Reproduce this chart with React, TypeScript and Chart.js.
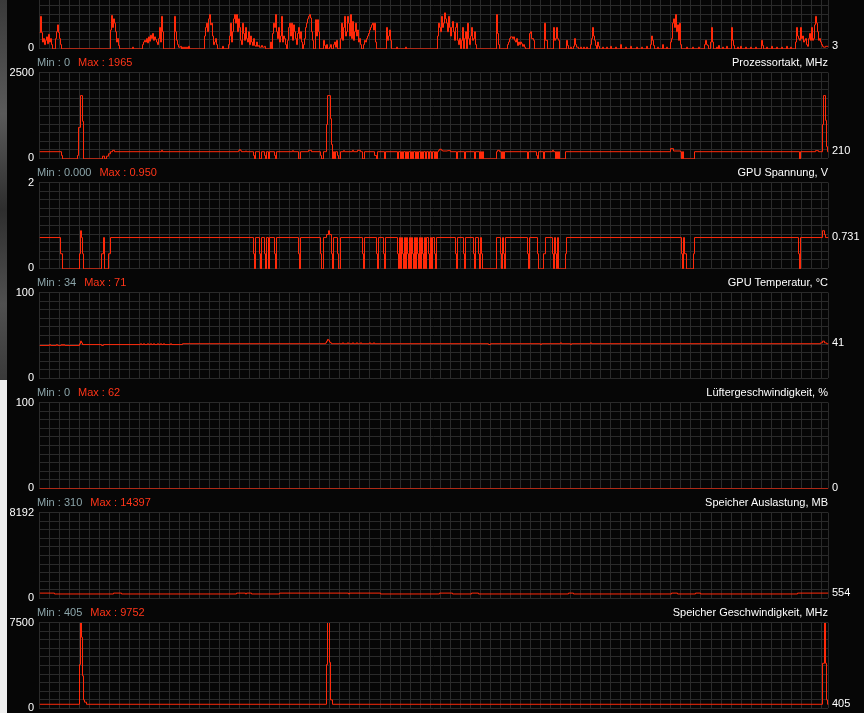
import React, { useEffect, useRef } from 'react';
import { Chart, registerables } from 'chart.js';

Chart.register(...registerables);

const LINE = '#ff2a0a';
const GRID = '#2a2a2a';
const BG = '#060606';
const MIN_C = '#8ca5aa';
const MAX_C = '#ff3519';
const FONT_FAMILY = "'Liberation Sans', Arial, Helvetica, sans-serif";

const SPAN = 789; // seconds of history shown
const GRID_STEP = 10.03;

// [time (s), value] change points of each monitored series
const usage: [number, number][] = [
  [0,19],[1,38],[2,19],[3,8],[4,12],[5,5],[6,10],[7,14],[8,6],[9,17],[10,8],[11,12],[12,5],[13,0],[16,12],[17,20],[18,28],[19,19],[20,12],[21,5],[22,0],
  [71,22],[72,39],[73,25],[74,35],[75,30],[76,20],[77,8],[78,12],[79,4],[80,0],
  [93,2],[94,0],
  [103,5],[104,8],[105,10],[106,8],[107,12],[108,7],[109,14],[110,9],[111,16],[112,12],[113,18],[114,10],[115,14],[116,11],[117,8],[118,5],[119,12],[120,25],[121,8],[122,38],[123,20],[124,0],
  [135,38],[136,20],[137,10],[138,5],[139,2],[141,3],[142,0],[143,2],[144,0],[145,2],[146,0],[147,2],[148,0],[149,3],[150,0],
  [165,15],[166,25],[167,30],[168,20],[169,35],[170,40],[171,28],[172,30],[173,15],[174,5],[175,8],[176,12],[177,5],[178,0],
  [183,3],[184,0],[189,5],
  [190,15],[191,30],[192,8],[193,20],[194,35],[195,40],[196,30],[197,40],[198,20],[199,35],[200,25],[201,10],[202,5],[203,30],[204,18],[205,10],[206,25],[207,12],[208,8],[209,20],[210,5],[211,15],[212,8],[213,4],[214,12],[215,4],[216,3],[217,8],[218,3],[219,4],[220,2],[222,4],[223,2],[225,3],[226,0],
  [231,8],[232,0],[233,18],[234,30],[235,25],[236,40],[237,20],[238,12],[239,25],[240,8],
  [241,15],[242,38],[243,8],[244,15],[245,12],[246,5],[247,0],[248,10],[249,25],[250,30],[251,15],[252,30],[253,10],[254,28],[255,20],[256,12],[257,5],[258,18],[259,25],[260,12],[261,20],[262,8],[263,0],[264,5],[265,12],
  [266,25],[267,30],[268,35],[269,38],[270,40],[271,36],[272,20],[273,10],[274,0],[276,34],[277,15],[278,34],[279,20],[280,0],
  [284,10],[285,4],[286,0],[287,5],[288,0],[290,2],[291,5],[292,0],[294,5],[295,8],[296,2],[297,10],[298,0],
  [301,12],[302,30],[303,10],[304,25],[305,38],[306,15],[307,20],[308,38],[309,30],[310,15],[311,40],[312,12],[313,32],[314,10],[315,20],[316,30],[317,15],[318,22],[319,8],[320,12],[321,5],[322,0],
  [324,5],[325,10],[326,8],[327,12],[328,15],[329,18],[330,22],[331,25],[332,28],[333,30],[334,22],[335,30],[336,8],[337,0],
  [347,25],[348,10],[349,15],[350,22],[351,10],[352,0],[357,2],[358,0],[366,2],[367,0],
  [398,15],[399,30],[400,25],[401,20],[402,38],[403,25],[404,30],[405,42],[406,35],[407,30],[408,20],[409,38],[410,25],[411,15],[412,25],[413,32],[414,20],[415,10],[416,25],[417,30],[418,10],[419,5],[420,12],[421,0],[422,10],[423,25],[424,0],[425,12],[426,20],[427,0],[428,30],[429,12],[430,5],[431,15],[432,25],[433,10],[434,12],[435,20],[436,5],[437,0],
  [457,40],[458,18],[459,5],[460,0],
  [468,5],[469,8],[470,12],[471,14],[473,12],[474,14],[475,10],[476,8],[477,12],[478,4],[479,8],[480,5],[481,8],[482,6],[483,3],[484,5],[485,2],[486,0],
  [490,18],[491,20],[492,12],[494,10],[495,0],
  [505,30],[506,10],[508,0],
  [514,25],[515,10],[516,12],[517,25],[518,12],[519,10],[520,0],
  [527,10],[528,4],[529,0],
  [531,2],[532,0],[534,3],[535,12],[536,5],[537,2],[539,0],[541,2],[542,0],[544,2],[545,0],[547,2],[548,0],
  [551,5],[552,12],[553,25],[554,15],[555,10],[556,4],[557,0],[558,8],[559,3],[560,0],
  [563,2],[564,0],[567,2],[568,0],[571,3],[572,0],[576,2],[577,0],[581,5],[582,0],[586,2],[587,0],[591,3],[592,0],[597,2],[598,0],[602,2],[603,0],[607,3],[608,0],
  [611,5],[612,15],[613,10],[614,4],[615,0],[618,2],[619,0],[623,5],[624,0],[627,2],[628,0],
  [631,8],[632,12],[633,30],[634,35],[635,25],[636,40],[637,20],[638,28],[639,10],[640,30],[641,5],[642,0],
  [647,2],[648,0],[653,2],[654,0],[659,2],[660,0],
  [665,5],[666,10],[667,5],[668,4],[669,0],[671,8],[672,25],[673,8],[674,0],
  [677,2],[678,0],[679,4],[680,0],[683,2],[684,0],[687,3],[688,0],
  [692,25],[693,10],[694,4],[695,0],[698,2],[699,0],[701,3],[702,0],[706,2],[707,0],[711,2],[712,0],[716,2],[717,0],
  [722,10],[723,4],[724,0],[727,2],[728,0],[732,3],[733,0],[737,2],[738,0],[742,2],[743,0],[747,3],[748,0],[751,2],[752,0],
  [756,8],[757,25],[758,15],[759,12],[760,10],[761,25],[762,12],[763,15],[764,8],[765,10],[766,12],[767,5],[768,3],[769,12],[770,18],[771,10],[772,25],[773,10],[774,12],[775,28],[776,38],[777,30],[778,20],[779,10],[780,12],[781,8],[782,5],[783,3],[784,2],[786,3],[789,3],
];

const clock: [number, number][] = [
  [0,210],[22,100],[23,0],[38,100],[39,918],[41,1845],[43,1095],[44,0],
  [63,80],[65,0],[67,80],[69,150],[71,210],[73,250],[75,210],
  [122,250],[123,210],
  [199,240],[200,270],[201,240],[202,210],[206,230],[207,210],
  [214,100],[215,0],[216,210],[220,0],[222,210],[225,100],[226,0],[227,210],[229,0],[230,210],[235,100],[236,0],[237,210],
  [253,240],[254,210],[259,0],[261,210],[269,250],[272,210],
  [281,100],[282,0],[284,210],
  [287,1000],[288,1845],[291,1170],[292,420],[293,0],[294,210],[295,0],[296,210],
  [298,100],[299,0],[301,210],
  [304,240],[305,210],[313,250],[314,210],[318,250],[321,210],
  [323,0],[325,210],[335,100],[337,0],[338,210],[345,0],[346,210],
  [358,0],[359,210],[361,0],[362,210],[363,0],[364,210],[366,0],[367,210],[368,0],[369,210],[371,0],[372,210],[373,0],[374,210],[376,0],[377,210],[378,0],[379,210],[381,0],[382,210],[383,0],[384,210],[386,0],[387,210],[389,0],[390,210],[392,0],[393,210],[395,0],[396,210],[397,0],[398,210],
  [399,250],[400,280],[402,250],[403,230],[408,240],[411,210],
  [417,0],[418,210],[425,0],[426,210],[435,0],[436,210],
  [440,0],[441,210],[442,0],[443,210],[444,0],[457,210],[458,250],[460,210],
  [462,0],[463,210],[464,0],[465,210],
  [488,0],[489,210],[497,100],[498,0],[499,210],[504,0],[505,210],
  [513,250],[514,210],[516,0],[517,210],[518,0],[519,210],[520,0],[526,210],
  [631,300],[634,230],[641,210],
  [642,0],[643,210],[644,0],[655,210],
  [760,0],[761,210],[776,240],[779,210],
  [783,1000],[784,1845],[786,1124],[787,356],[788,210],[789,210],
];

const voltage: [number, number][] = [
  [0,0.731],[21,0.353],[23,0],[40,0.353],[41,0.89],[42,0.731],[43,0.353],[44,0],
  [62,0.353],[64,0.731],[65,0],[69,0.353],[71,0.731],
  [214,0.353],[215,0],[216,0.731],[220,0.353],[221,0],[222,0.731],[225,0.353],[226,0],[227,0.731],[229,0],[230,0.731],[235,0.353],[236,0],[237,0.731],
  [259,0.353],[260,0],[261,0.731],
  [281,0.353],[282,0],[284,0.731],
  [287,0.8],[289,0.89],[290,0.8],[292,0.353],[293,0],[294,0.731],
  [298,0.353],[299,0],[301,0.731],
  [323,0.353],[324,0],[325,0.731],
  [337,0.353],[338,0],[339,0.731],
  [344,0.353],[345,0],[346,0.731],
  [358,0.353],[359,0],[360,0.731],[361,0],[362,0.731],[363,0.353],[364,0],[365,0.731],[366,0],[367,0.731],[368,0.353],[369,0],[370,0.731],[371,0],[372,0.731],[373,0.353],[374,0],[375,0.731],[376,0],[377,0.731],[378,0.353],[379,0],[380,0.731],[381,0],[382,0.731],[383,0.353],[384,0],[385,0.731],[386,0],[387,0.731],[389,0.353],[390,0],[391,0.731],[392,0],[393,0.731],[395,0.353],[396,0],[397,0.731],
  [416,0.353],[417,0],[418,0.731],
  [424,0.353],[425,0],[426,0.731],
  [434,0.353],[435,0],[436,0.731],
  [439,0.353],[440,0],[441,0.731],[442,0.353],[443,0],[457,0.731],[461,0.353],[462,0],[463,0.731],[464,0.353],[465,0],[466,0.731],
  [488,0.353],[489,0],[490,0.731],
  [498,0.353],[499,0],[504,0.353],[506,0.731],
  [513,0.353],[514,0],[515,0.731],[516,0.353],[517,0],[518,0.731],[519,0],[526,0.353],[527,0.731],
  [642,0.353],[643,0],[644,0.731],[645,0.353],[647,0],[654,0.353],[655,0.731],
  [759,0.353],[760,0],[761,0.731],
  [783,0.89],[785,0.8],[786,0.731],[789,0.731],
];

const temperature: [number, number][] = [
  [0,39],[10,40],[11,39],[17,40],[18,39],[22,40],[23,39],[24,40],[25,39],
  [40,41],[41,44],[42,42],[43,40],
  [62,39],[64,40],
  [101,41],[102,40],[104,41],[105,40],[108,41],[109,40],[111,41],[112,40],[114,41],[115,40],[118,41],[119,40],[121,41],[122,40],[124,41],[125,40],[131,41],[132,40],
  [143,41],
  [286,42],[287,44],[288,46],[289,45],[290,43],[291,42],[292,41],
  [303,42],[304,41],[308,42],[309,41],[313,42],[314,41],[317,42],[318,41],[321,42],[322,41],[330,42],[331,41],[334,42],[335,41],
  [449,40],[451,41],[501,40],[502,41],[521,42],[522,41],[531,40],[532,41],[551,42],[552,41],
  [781,42],[783,44],[785,42],[787,41],[789,41],
];

const fan: [number, number][] = [[0,0],[789,0]];

const memUsage: [number, number][] = [
  [0,554],[15,470],[74,554],[82,470],[197,554],[206,470],[207,554],[212,470],[240,554],[309,470],[310,554],[341,470],
  [400,554],[413,470],[432,554],[439,470],[529,554],[534,470],[632,554],[638,470],[656,554],[661,470],[758,554],[789,554],
];

const memClock: [number, number][] = [
  [0,405],[40,3876],[41,9752],[42,6263],[43,2893],[44,786],[45,590],[47,405],
  [287,3876],[288,9752],[290,4070],[291,786],[293,405],
  [783,3986],[785,9752],[786,3986],[787,786],[788,405],[789,405],
];

const seriesList = [usage, clock, voltage, temperature, fan, memUsage, memClock];
const yMax = [100, 2500, 2, 100, 100, 8192, 7500];
const yMaxLabels = ['100', '2500', '2', '100', '100', '8192', '7500'];
const currentValues = [3, 210, 0.731, 41, 0, 554, 405];
const currentLabels = ['3', '210', '0.731', '41', '0', '554', '405'];
const titles = ['', 'Prozessortakt, MHz', 'GPU Spannung, V', 'GPU Temperatur, °C', 'Lüftergeschwindigkeit, %', 'Speicher Auslastung, MB', 'Speicher Geschwindigkeit, MHz'];
const minLabels = ['', '0', '0.000', '34', '0', '310', '405'];
const maxLabels = ['', '1965', '0.950', '71', '62', '14397', '9752'];

const PLOT_H = 89;
const STRIDE = 110;
const FIRST_TOP = -39;
const PAD = 10;
const AXIS_L = 39;
const AXIS_R = 36;
const CANVAS_W = 864;

const crisp = {
  id: 'crisp',
  beforeDatasetsDraw(chart: any) { chart.ctx.save(); chart.ctx.translate(0.5, 0.5); },
  afterDatasetsDraw(chart: any) { chart.ctx.restore(); },
};

function Panel({ idx }: { idx: number }) {
  const ref = useRef<HTMLCanvasElement>(null);
  useEffect(() => {
    const font = { family: FONT_FAMILY, size: 11 };
    const chart = new Chart(ref.current as HTMLCanvasElement, {
      type: 'line',
      data: {
        datasets: [{
          data: seriesList[idx] as any,
          borderColor: LINE,
          borderWidth: 1,
          pointRadius: 0,
          stepped: 'before',
          fill: false,
        }],
      },
      options: {
        animation: false,
        responsive: false,
        maintainAspectRatio: false,
        devicePixelRatio: 1,
        events: [],
        layout: { padding: { top: PAD, bottom: PAD, left: 0, right: 0 } },
        plugins: { legend: { display: false }, tooltip: { enabled: false } },
        scales: {
          x: {
            type: 'linear',
            min: 0,
            max: SPAN,
            afterBuildTicks: (s: any) => {
              const t: any[] = [];
              for (let v = 0; v < SPAN - 1; v += GRID_STEP) t.push({ value: v });
              t.push({ value: SPAN });
              s.ticks = t;
            },
            ticks: { display: false },
            grid: { color: GRID, drawTicks: false, lineWidth: 1 },
            border: { display: false },
          },
          y: {
            type: 'linear',
            position: 'left',
            min: 0,
            max: yMax[idx],
            afterFit: (s: any) => { s.width = AXIS_L; },
            ticks: {
              count: 11,
              autoSkip: false,
              color: '#ffffff',
              font,
              padding: 5,
              callback: (_v: any, i: number, ticks: any[]) =>
                i === 0 ? '0' : i === ticks.length - 1 ? yMaxLabels[idx] : '',
            },
            grid: { color: GRID, drawTicks: false, lineWidth: 1 },
            border: { display: false },
          },
          y2: {
            type: 'linear',
            position: 'right',
            min: 0,
            max: yMax[idx],
            afterFit: (s: any) => { s.width = AXIS_R; },
            afterBuildTicks: (s: any) => { s.ticks = [{ value: currentValues[idx] }]; },
            ticks: {
              autoSkip: false,
              color: '#ffffff',
              font,
              padding: 4,
              callback: () => currentLabels[idx],
            },
            grid: { display: false, drawTicks: false },
            border: { display: false },
          },
        },
      } as any,
      plugins: [crisp],
    });
    return () => chart.destroy();
  }, [idx]);
  const top = FIRST_TOP + idx * STRIDE - PAD;
  return (
    <canvas
      ref={ref}
      width={CANVAS_W}
      height={PLOT_H + 2 * PAD}
      style={{ position: 'absolute', left: 0, top, width: CANVAS_W, height: PLOT_H + 2 * PAD }}
    />
  );
}

function Header({ idx }: { idx: number }) {
  const top = FIRST_TOP + idx * STRIDE - 16;
  const base: React.CSSProperties = {
    position: 'absolute', top, height: 14, lineHeight: '14px', fontSize: 11,
    fontFamily: FONT_FAMILY, whiteSpace: 'nowrap',
  };
  return (
    <>
      <div style={{ ...base, left: 37 }}>
        <span style={{ color: MIN_C }}>Min : {minLabels[idx]}</span>
        <span style={{ color: MAX_C, marginLeft: 8 }}>Max : {maxLabels[idx]}</span>
      </div>
      <div style={{ ...base, right: 36, color: '#ffffff', textAlign: 'right' }}>{titles[idx]}</div>
    </>
  );
}

export default function App() {
  const idxs = seriesList.map((_, i) => i);
  return (
    <div style={{ position: 'fixed', left: 0, top: 0, width: 864, height: 713, background: BG, overflow: 'hidden' }}>
      <div style={{ position: 'absolute', left: 0, top: 0, width: 7, height: 380, background: 'linear-gradient(180deg,#3a3a3a,#5a5a5a 30%,#2e2e2e 55%,#505050 80%,#3a3a3a)' }} />
      <div style={{ position: 'absolute', left: 0, top: 380, width: 7, height: 333, background: '#efefef' }} />
      {idxs.map((i) => <Panel key={'p' + i} idx={i} />)}
      {idxs.filter((i) => i > 0).map((i) => <Header key={'h' + i} idx={i} />)}
    </div>
  );
}
